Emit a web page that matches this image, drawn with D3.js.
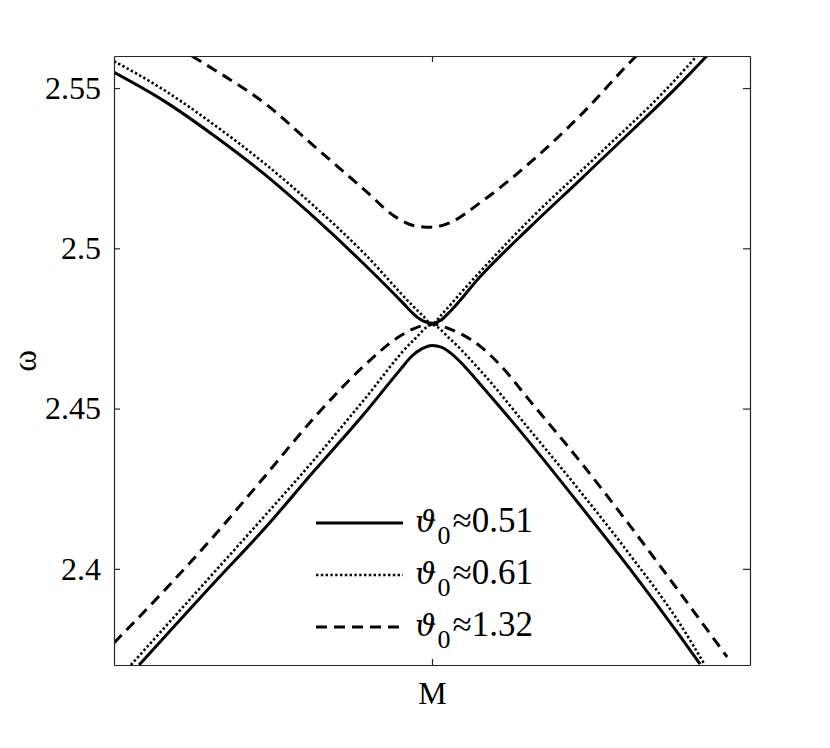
<!DOCTYPE html>
<html><head><meta charset="utf-8">
<script src="https://cdn.jsdelivr.net/npm/d3@7"></script>
<style>
body{margin:0;background:#fff}
svg{display:block;background:#fff}
</style>
</head><body>
<svg id="chart" width="830" height="748"></svg>
<script>
// ---- data (k along the path through M, ω) ----
const xTicks = [0];
const xTickLabels = ["M"];
const yTicks = [2.4, 2.45, 2.5, 2.55];
const legendLabels = ["0.51", "0.61", "1.32"];

// ϑ0 ≈ 0.51 (solid)
const th051Upper = [[-1,2.5549],[-0.843,2.5460],[-0.686,2.5352],[-0.528,2.5232],[-0.371,2.5097],[-0.214,2.4951],[-0.088,2.4826],[-0.057,2.4794],[-0.025,2.4772],[0,2.4766],[0.025,2.4774],[0.057,2.4803],[0.151,2.4911],[0.308,2.5066],[0.465,2.5213],[0.623,2.5362],[0.780,2.5513],[0.864,2.5600]];
const th051Lower = [[-0.921,2.3700],[-0.686,2.3956],[-0.528,2.4124],[-0.371,2.4305],[-0.214,2.4483],[-0.101,2.4620],[-0.063,2.4664],[-0.031,2.4687],[0,2.4697],[0.031,2.4691],[0.063,2.4670],[0.104,2.4630],[0.151,2.4577],[0.308,2.4393],[0.465,2.4199],[0.623,2.3999],[0.780,2.3790],[0.843,2.3703]];
// ϑ0 ≈ 0.61 (dotted)
const th061Upper = [[-1,2.5584],[-0.843,2.5494],[-0.686,2.5386],[-0.528,2.5266],[-0.371,2.5132],[-0.214,2.4985],[-0.057,2.4817],[-0.028,2.4789],[0,2.4762],[0.030,2.4793],[0.097,2.4868],[0.308,2.5090],[0.519,2.5288],[0.726,2.5485],[0.833,2.5600]];
const th061Lower = [[-0.947,2.3700],[-0.686,2.3988],[-0.528,2.4163],[-0.371,2.4340],[-0.214,2.4527],[-0.057,2.4714],[0,2.4761],[0.057,2.4717],[0.151,2.4620],[0.308,2.4433],[0.465,2.4243],[0.623,2.4043],[0.780,2.3828],[0.858,2.3700]];
// ϑ0 ≈ 1.32 (dashed)
const th132Upper = [[-0.755,2.5600],[-0.686,2.5558],[-0.528,2.5454],[-0.371,2.5319],[-0.214,2.5184],[-0.110,2.5095],[-0.053,2.5070],[0,2.5066],[0.057,2.5080],[0.151,2.5142],[0.308,2.5267],[0.465,2.5413],[0.632,2.5590],[0.642,2.5600]];
const th132Lower = [[-1,2.3769],[-0.843,2.3931],[-0.686,2.4102],[-0.528,2.4286],[-0.371,2.4471],[-0.214,2.4633],[-0.110,2.4720],[-0.053,2.4751],[0,2.4764],[0.057,2.4748],[0.104,2.4726],[0.151,2.4695],[0.214,2.4636],[0.308,2.4524],[0.465,2.4336],[0.623,2.4134],[0.780,2.3925],[0.928,2.3725]];

// ---- layout ----
const FONT = '"Liberation Serif","Times New Roman",serif';
const L = 114, R = 750, T = 56, B = 665;
const svg = d3.select("#chart");
const x = d3.scaleLinear().domain([-1, 1]).range([L, R]);
const y = d3.scaleLinear().domain([2.37, 2.56]).range([B, T]);

const styles = [
  {w: 3, dash: null},
  {w: 2.6, dash: "2.4,2.4"},
  {w: 3, dash: "11,7"}
];
const series = [
  {branches: [th051Upper, th051Lower], s: styles[0]},
  {branches: [th061Upper, th061Lower], s: styles[1]},
  {branches: [th132Upper, th132Lower], s: styles[2]}
];

svg.append("defs").append("clipPath").attr("id", "clip")
  .append("rect").attr("x", L).attr("y", T).attr("width", R - L).attr("height", B - T);

const line = d3.line().x(d => x(d[0])).y(d => y(d[1])).curve(d3.curveMonotoneX);
const plot = svg.append("g").attr("clip-path", "url(#clip)");
series.forEach(sr => {
  sr.branches.forEach(br => {
    plot.append("path").datum(br).attr("d", line)
      .attr("fill", "none").attr("stroke", "#000")
      .attr("stroke-width", sr.s.w)
      .attr("stroke-dasharray", sr.s.dash)
      .attr("stroke-linejoin", "round");
  });
});

// ---- axes ----
const axisColor = "#262626";
function styleAxis(g, fs) {
  g.attr("font-family", null).attr("font-size", null);
  g.selectAll(".domain").attr("stroke", axisColor).attr("stroke-width", 1.2);
  g.selectAll(".tick line").attr("stroke", axisColor).attr("stroke-width", 1.2);
  g.selectAll(".tick text").style("font-size", fs + "px").style("font-family", FONT).attr("fill", "#000");
}
svg.append("g").attr("transform", `translate(${L},0)`)
  .call(d3.axisLeft(y).tickValues(yTicks).tickSizeInner(-6).tickSizeOuter(0).tickPadding(13).tickFormat(d => String(d)))
  .call(g => styleAxis(g, 32));
svg.append("g").attr("transform", `translate(${R},0)`)
  .call(d3.axisRight(y).tickValues(yTicks).tickSizeInner(-7).tickSizeOuter(0).tickFormat(""))
  .call(g => styleAxis(g, 32));
svg.append("g").attr("transform", `translate(0,${B})`)
  .call(d3.axisBottom(x).tickValues(xTicks).tickSizeInner(-6).tickSizeOuter(0).tickPadding(16).tickFormat((d, i) => xTickLabels[i]))
  .call(g => styleAxis(g, 32));
svg.append("g").attr("transform", `translate(0,${T})`)
  .call(d3.axisTop(x).tickValues(xTicks).tickSizeInner(-6).tickSizeOuter(0).tickFormat(""))
  .call(g => styleAxis(g, 32));

// y axis label
svg.append("text").attr("transform", "translate(25,361) rotate(-90)")
  .attr("text-anchor", "middle").attr("dominant-baseline", "central")
  .style("font-family", FONT).style("font-size", "33px").text("ω");

// ---- legend ----
const legY = [532, 584, 636];
const leg = svg.append("g");
legendLabels.forEach((lab, i) => {
  const by = legY[i];
  const s = styles[i];
  leg.append("line").attr("x1", 316).attr("x2", 403).attr("y1", by - 9).attr("y2", by - 9)
    .attr("stroke", "#000").attr("stroke-width", s.w).attr("stroke-dasharray", s.dash);
  const t = leg.append("text").attr("x", 415).attr("y", by)
    .style("font-family", FONT).style("font-size", "35px");
  t.append("tspan").style("font-family", '"DejaVu Serif",serif').style("font-style", "italic").style("font-size", "30px").text("ϑ");
  t.append("tspan").attr("dy", 12).attr("dx", 1).style("font-size", "26px").text("0");
  t.append("tspan").attr("dy", -12).attr("dx", 2).text("≈" + lab);
});
</script>
</body></html>
